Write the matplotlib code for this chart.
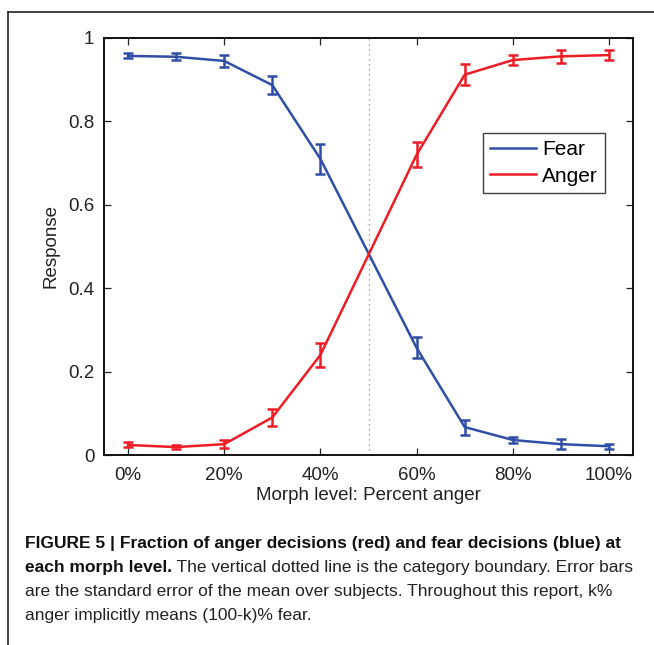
import matplotlib
matplotlib.use("Agg")
import matplotlib.pyplot as plt
from matplotlib.lines import Line2D

morph = [0, 10, 20, 30, 40, 60, 70, 80, 90, 100]
fear = [0.957, 0.955, 0.945, 0.887, 0.71, 0.257, 0.067, 0.036, 0.026, 0.021]
fear_err = [0.006, 0.008, 0.015, 0.022, 0.035, 0.025, 0.018, 0.008, 0.012, 0.006]
anger = [0.024, 0.019, 0.026, 0.09, 0.24, 0.72, 0.912, 0.947, 0.956, 0.959]
anger_err = [0.006, 0.005, 0.009, 0.02, 0.028, 0.03, 0.025, 0.012, 0.015, 0.012]
xticks = [0, 20, 40, 60, 80, 100]
xticklabels = ["0%", "20%", "40%", "60%", "80%", "100%"]
yticks = [0, 0.2, 0.4, 0.6, 0.8, 1]
yticklabels = ["0", "0.2", "0.4", "0.6", "0.8", "1"]

plt.rcParams['font.family'] = ['Liberation Sans', 'DejaVu Sans']

W, H = 654, 645
fig = plt.figure(figsize=(W / 100, H / 100), dpi=100)
ax = fig.add_axes([104 / W, 1 - 455 / H, (633 - 104) / W, (455 - 38) / H])

blue = "#2f4fa6"
red = "#ee1c25"
ax.axvline(50, color="#888888", linestyle=(0, (1, 3)), linewidth=0.9)
ax.errorbar(morph, fear, yerr=fear_err, color=blue, linewidth=1.8, capsize=3.5,
            capthick=1.8, elinewidth=1.8)
ax.errorbar(morph, anger, yerr=anger_err, color=red, linewidth=1.8, capsize=3.5,
            capthick=1.8, elinewidth=1.8)

ax.set_xlim(-5, 105)
ax.set_ylim(0, 1)
ax.set_xticks(xticks)
ax.set_xticklabels(xticklabels)
ax.set_yticks(yticks)
ax.set_yticklabels(yticklabels)
ax.tick_params(direction="in", length=5, width=0.9, labelsize=13.5, top=True, right=True,
               colors="#222222")
ax.tick_params(axis="x", pad=9)
ax.tick_params(axis="y", pad=7)
for s in ax.spines.values():
    s.set_linewidth(1.4)
    s.set_color("#111111")
ax.set_xlabel("Morph level: Percent anger", fontsize=13.5, labelpad=2, color="#222222")
ax.set_ylabel("Response", fontsize=13.5, labelpad=6, color="#222222")

handles = [Line2D([], [], color=blue, linewidth=1.8), Line2D([], [], color=red, linewidth=1.8)]
leg = ax.legend(handles, ["Fear", "Anger"], loc="upper left", bbox_to_anchor=(0.7165, 0.772),
                fontsize=15, frameon=True, fancybox=False, handlelength=2.2, borderpad=0.35,
                labelspacing=0.35, handletextpad=0.3, borderaxespad=0)
leg.get_frame().set_edgecolor("#111111")
leg.get_frame().set_linewidth(1.0)

# figure frame
fig.add_artist(Line2D([8 / W, 1], [1 - 12 / H, 1 - 12 / H], color="#222222", linewidth=1.2,
                      transform=fig.transFigure))
fig.add_artist(Line2D([8 / W, 8 / W], [1 - 12 / H, 0], color="#222222", linewidth=1.2,
                      transform=fig.transFigure))

# caption
cs = 12.5
x0 = 25 / W
fig.text(x0, 1 - 548 / H, "FIGURE 5 | Fraction of anger decisions (red) and fear decisions (blue) at",
         fontsize=cs, fontweight="bold", color="#111111", va="baseline")
t2 = fig.text(x0, 1 - 572 / H, "each morph level.", fontsize=cs, fontweight="bold",
              color="#111111", va="baseline")
ax.annotate(" The vertical dotted line is the category boundary. Error bars",
            xy=(1, 0), xycoords=t2, xytext=(0, 0), textcoords="offset points",
            fontsize=cs, color="#222222", va="bottom", ha="left",
            annotation_clip=False)
fig.text(x0, 1 - 596 / H, "are the standard error of the mean over subjects. Throughout this report, k%",
         fontsize=cs, color="#222222", va="baseline")
fig.text(x0, 1 - 620 / H, "anger implicitly means (100-k)% fear.",
         fontsize=cs, color="#222222", va="baseline")

fig.savefig("out.png", dpi=100)
